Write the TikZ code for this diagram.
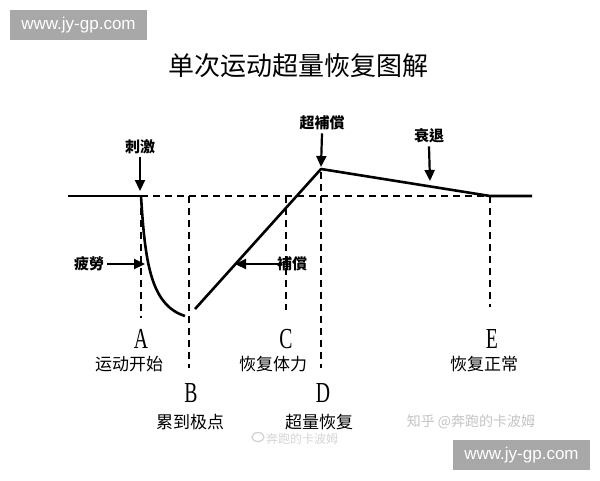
\documentclass[tikz,border=0pt]{standalone}
\usepackage{fontspec}
\setmainfont{Liberation Serif}
\newfontfamily\cjk{Noto Sans CJK SC}
\newfontfamily\cjktc{Noto Sans CJK TC}
\newfontfamily\wmfont{Liberation Sans}
\usetikzlibrary{arrows.meta}
\definecolor{wmgray}{HTML}{A8A8A8}
\definecolor{faint}{HTML}{C4C4C4}
\newcommand\Ltr[1]{\scalebox{0.68}[1]{#1}}
\tikzset{
  curveline/.style={line width=2.6pt, line join=round, line cap=butt},
  dashline/.style={line width=2.6pt, dash pattern=on 7pt off 5pt},
  pointer/.style={line width=2.2pt, -{Triangle[length=11pt,width=10pt]}},
  cue/.style={font=\cjktc\bfseries\fontsize{15}{15}\selectfont, inner sep=0pt},
  letter/.style={font=\fontsize{29}{29}\selectfont, inner sep=0pt},
  caption/.style={font=\cjk\fontsize{17}{17}\selectfont, inner sep=0pt},
  wmbox/.style={fill=wmgray, text=white, inner sep=0pt, minimum width=137pt, minimum height=30pt, font=\wmfont\fontsize{17}{17}\selectfont},
}
\begin{document}
\begin{tikzpicture}[x=1pt,y=-1pt]
\fill[white] (0,0) rectangle (600,480);
\useasboundingbox (0,0) rectangle (600,480);

% watermarks
\node[wmbox] (wmtop) at (78.5,25) {www.jy-gp.com};
\node[wmbox] (wmbot) at (521.5,455) {www.jy-gp.com};

% title
\node[font=\cjk\fontsize{26}{26}\selectfont, inner sep=0pt] (title) at (298,66) {单次运动超量恢复图解};

% key points
\coordinate (start) at (68,196);
\coordinate (A0) at (141,196);
\coordinate (A1) at (141,318);
\coordinate (B0) at (189,196);
\coordinate (B1) at (189,368);
\coordinate (C0) at (286,196);
\coordinate (C1) at (286,310);
\coordinate (D0) at (321,172);
\coordinate (D1) at (321,368);
\coordinate (E0) at (490,196);
\coordinate (E1) at (490,307);
\coordinate (fin) at (532,196);
\coordinate (low) at (185,316);
\coordinate (rise) at (195,309);
\coordinate (peak) at (321,169);

% dashed guides
\draw[dashline] (A0) -- (E0);
\draw[dashline] (A0) -- (A1);
\draw[dashline] (B0) -- (B1);
\draw[dashline] (C0) -- (C1);
\draw[dashline] (D0) -- (D1);
\draw[dashline] (E0) -- (E1);

% main curve
\draw[curveline] (start) -- (A0);
\draw[curveline] (A0) .. controls (145,260) and (150,305) .. (low);
\draw[curveline] (rise) -- (peak) -- (E0) -- (fin);

% cues and arrows
\node[cue] (stim) at (140,147) {刺激};
\coordinate (stimtip) at (140,191);
\draw[pointer] (stim.south) ++(0,3) -- (stimtip);

\node[cue] (super) at (322,123) {超補償};
\coordinate (supertip) at (321,167);
\draw[pointer] (super.south) ++(0,3) -- (supertip);

\node[cue] (decl) at (429,136) {衰退};
\coordinate (decltip) at (430,181);
\draw[pointer] (decl.south) ++(0,3) -- (decltip);

\node[cue] (fat) at (89,264) {疲勞};
\coordinate (fattip) at (145,264);
\draw[pointer] (fat.east) ++(3,0) -- (fattip);

\node[cue] (comp) at (292,264) {補償};
\coordinate (comptip) at (235,264);
\draw[pointer] (comp.west) ++(2,0) -- (comptip);

% letters and captions
\node[letter] (LA) at (141,339) {\Ltr{A}};
\node[caption] (capA) at (129,364) {运动开始};
\node[letter] (LB) at (191,393) {\Ltr{B}};
\node[caption] (capB) at (190,422) {累到极点};
\node[letter] (LC) at (286,339) {\Ltr{C}};
\node[caption] (capC) at (273,364) {恢复体力};
\node[letter] (LD) at (323,393) {\Ltr{D}};
\node[caption] (capD) at (319,422) {超量恢复};
\node[letter] (LE) at (492,339) {\Ltr{E}};
\node[caption] (capE) at (484,364) {恢复正常};

% faint source marks
\node[font=\cjk\fontsize{14}{14}\selectfont, text=faint, inner sep=0pt] (zhihu) at (471,422) {知乎 @奔跑的卡波姆};
\node[font=\cjk\fontsize{12}{12}\selectfont, text=faint!70, inner sep=0pt] (weibo) at (302,439) {奔跑的卡波姆};
\draw[faint!80, line width=1.2pt] (258,437) ellipse (6pt and 4.5pt);
\end{tikzpicture}
\end{document}
